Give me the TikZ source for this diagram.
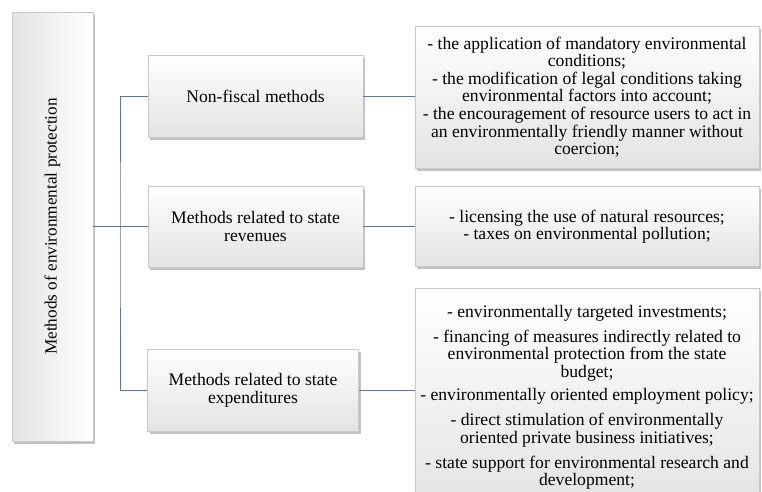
\documentclass[tikz,border=0pt]{standalone}
\usepackage{fontspec}
\setmainfont{Liberation Serif}
\usetikzlibrary{shadows}
\definecolor{linkblue}{HTML}{4F79A8}
\definecolor{boxedge}{HTML}{C8C8C8}
\newcommand{\bodysize}{\fontsize{17.6}{17.6}\selectfont}
\tikzset{
  panel/.style={draw=boxedge, line width=0.5pt, top color=white, bottom color=gray!22,
    drop shadow={shadow xshift=2pt, shadow yshift=-2.5pt, fill=gray!80, opacity=0.6},
    align=center, font=\bodysize, inner sep=0pt},
  sidepanel/.style={draw=boxedge, line width=0.5pt, left color=gray!22, right color=white,
    drop shadow={shadow xshift=2pt, shadow yshift=-2.5pt, fill=gray!80, opacity=0.6}},
  link/.style={draw=linkblue, line width=0.7pt}
}
\begin{document}
\begin{tikzpicture}[x=1pt, y=-1pt]
  \useasboundingbox (0,0) rectangle (762,491);
  \fill[white] (0,0) rectangle (762,491);
  \clip (0,0) rectangle (762,491);

  % root panel with vertical title
  \node[sidepanel, minimum width=81pt, minimum height=429pt] (root) at (52.5,226.5) {};
  \node[rotate=90, font=\fontsize{17.2}{17.2}\selectfont] (roottext) at (root.center) {Methods of environmental protection};

  % method groups
  \node[panel, minimum width=215pt, minimum height=82pt] (nf) at (255.5,96) {Non-fiscal methods};
  \node[panel, minimum width=215pt, minimum height=81pt] (rev) at (255.5,226.5) {Methods related to state\\revenues};
  \node[panel, minimum width=211pt, minimum height=82pt] (exp) at (253,390) {Methods related to state\\expenditures};

  % descriptions
  \node[panel, minimum width=344pt, minimum height=142pt] (d1) at (587,97)
    {- the application of mandatory environmental\\conditions;\\
     - the modification of legal conditions taking\\environmental factors into account;\\
     - the encouragement of resource users to act in\\an environmentally friendly manner without\\coercion;};
  \node[panel, minimum width=344pt, minimum height=80pt] (d2) at (587,226.5)
    {- licensing the use of natural resources;\\- taxes on environmental pollution;};
  \node[panel, minimum width=344pt, minimum height=225pt, anchor=north] (d3) at (587,288) {};
  \node[align=center, font=\bodysize, anchor=north, inner sep=0pt] (d3text) at (587,305)
    {- environmentally targeted investments;\\[7pt]
     - financing of measures indirectly related to\\environmental protection from the state\\budget;\\[5.5pt]
     - environmentally oriented employment policy;\\[8pt]
     - direct stimulation of environmentally\\oriented private business initiatives;\\[7pt]
     - state support for environmental research and\\development;};

  % connectors
  \coordinate (trunk) at (120,226.5);
  \draw[link] (root.east |- trunk) -- (trunk);
  \draw[link] (nf.west) -| (trunk) |- (exp.west);
  \draw[link] (trunk) -- (rev.west);
  \draw[link] (nf.east) -- (d1.west |- nf.east);
  \draw[link] (rev.east) -- (d2.west);
  \draw[link] (exp.east) -- (d3.west |- exp.east);
\end{tikzpicture}
\end{document}
